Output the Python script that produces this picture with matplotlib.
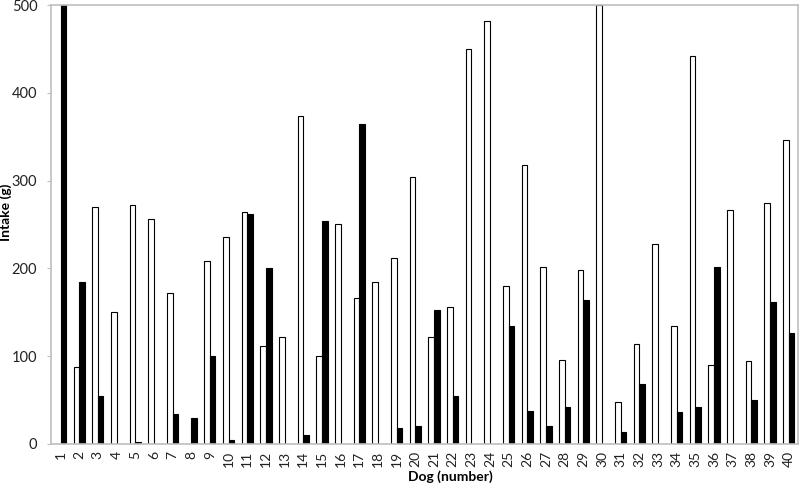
import matplotlib.pyplot as plt
import numpy as np

plt.rcParams['font.family'] = ['Lato', 'DejaVu Sans']

dogs = list(range(1, 41))
white_vals = [0, 88, 270, 150, 272, 256, 172, 0, 208, 236,
              264, 112, 122, 374, 100, 250, 166, 184, 212, 304,
              122, 156, 450, 482, 180, 318, 202, 96, 198, 500,
              48, 114, 228, 134, 442, 90, 266, 94, 274, 346]
black_vals = [500, 184, 54, 0, 2, 0, 34, 30, 100, 4,
              262, 200, 0, 10, 254, 0, 364, 0, 18, 20,
              152, 54, 0, 0, 134, 38, 20, 42, 164, 0,
              14, 68, 0, 36, 42, 202, 0, 50, 162, 126]

fig = plt.figure(figsize=(8, 4.83), dpi=100)
ax = fig.add_axes([0.064, 0.081, 0.9335, 0.9086])

x = np.array(dogs)
w = 0.3
ax.bar(x - w / 2, white_vals, width=w, color='white', edgecolor='black', linewidth=0.8)
ax.bar(x + w / 2, black_vals, width=w, color='black', edgecolor='black', linewidth=0.8)

ax.set_xlim(0.5, 40.5)
ax.set_ylim(0, 500)
ax.set_yticks([0, 100, 200, 300, 400, 500])
ax.set_xticks(x)
ax.set_xticklabels([str(d) for d in dogs], rotation=90)
ax.tick_params(axis='x', length=0, labelsize=10, pad=5, labelcolor='#222222')
ax.tick_params(axis='y', length=3, color='#bfbfbf', labelsize=10.5, pad=7,
               labelcolor='#222222')

for s in ax.spines.values():
    s.set_color('#bfbfbf')
    s.set_linewidth(1.2)

ax.set_xlabel('Dog (number)', fontweight='bold', fontsize=10)
ax.set_ylabel('Intake (g)', fontweight='bold', fontsize=10)
ax.xaxis.set_label_coords(0.535, -0.06)
ax.yaxis.set_label_coords(-0.053, 0.528)

fig.savefig('out.png', dpi=100)
